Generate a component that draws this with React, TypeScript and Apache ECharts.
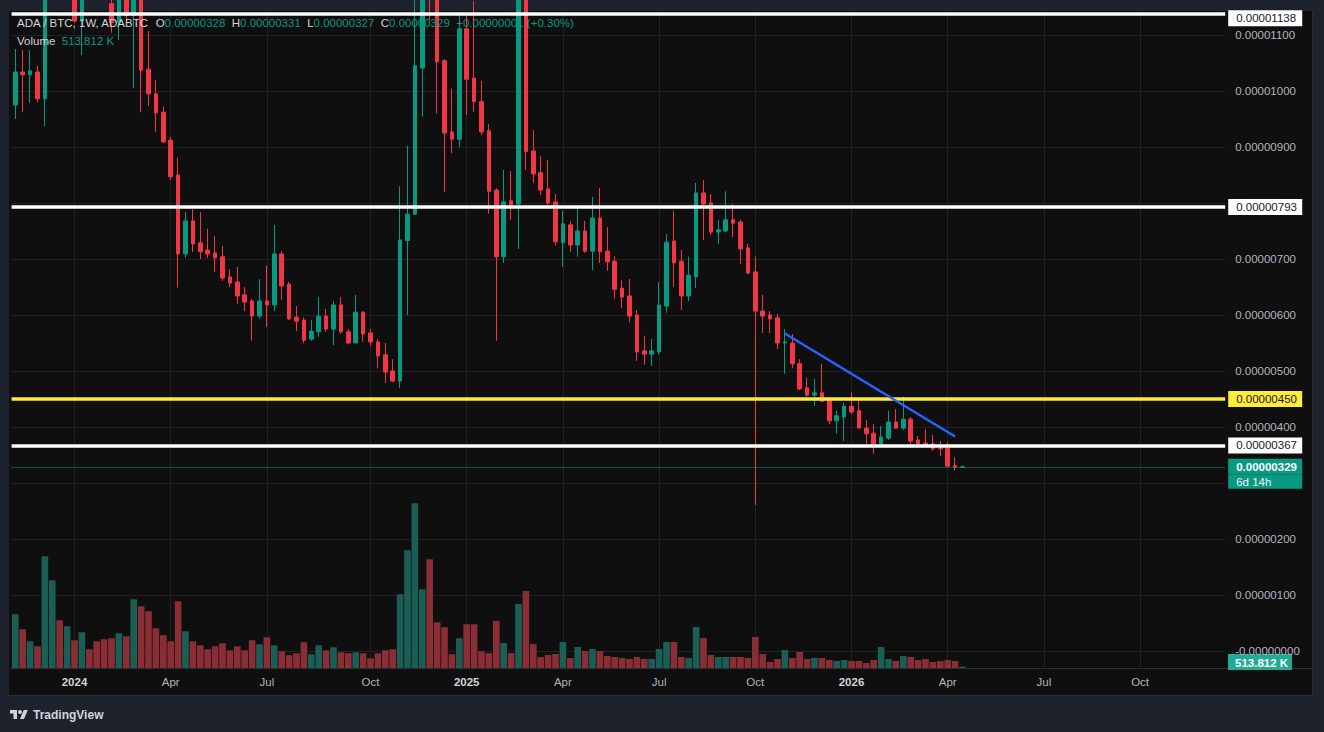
import React, { useEffect, useRef } from 'react';
import * as echarts from 'echarts';

// ---------- data (prices in units of 0.00000001 BTC) ----------
const START_UTC = Date.UTC(2023, 10, 6);
const WEEK_MS = 7 * 86400000;
const CATEGORY_COUNT = 164;
const categories: string[] = Array.from({ length: CATEGORY_COUNT }, (_, i) =>
  new Date(START_UTC + i * WEEK_MS).toISOString().slice(0, 10)
);

const opens = [
  975, 1034, 1029, 1034, 986, 1250, 1300, 1250, 1400, 1125,
  1200, 1180, 1160, 1156, 1122, 1170, 1135, 1180, 1039, 995,
  962, 912, 850, 709, 768, 729, 716, 711, 704, 668,
  659, 636, 625, 598, 625, 618, 709, 655, 596, 591,
  557, 570, 598, 575, 618, 570, 550, 605, 568, 552,
  529, 500, 482, 733, 780, 1041, 1300, 1200, 1054, 927,
  914, 1111, 1023, 981, 929, 823, 704, 804, 798, 1180,
  893, 854, 825, 802, 729, 761, 725, 750, 714, 773,
  714, 696, 648, 634, 600, 536, 530, 534, 616, 732,
  696, 634, 668, 818, 800, 748, 750, 770, 766, 720,
  677, 607, 600, 595, 550, 550, 513, 470, 457, 461,
  448, 411, 418, 437, 429, 398, 389, 370, 380, 409,
  398, 414, 377, 371, 370, 362, 362, 331, 328,
];
const highs = [
  1075, 1073, 1073, 1045, 1300, 1350, 1380, 1560, 1450, 1260,
  1280, 1230, 1210, 1240, 1200, 1200, 1220, 1200, 1107, 1020,
  972, 918, 881, 784, 789, 784, 754, 741, 723, 682,
  686, 650, 629, 664, 688, 761, 714, 659, 616, 596,
  591, 632, 611, 625, 632, 575, 636, 607, 575, 557,
  550, 521, 830, 902, 1200, 1380, 1400, 1260, 1057, 1004,
  1138, 1138, 1160, 1018, 941, 826, 859, 857, 1240, 1230,
  930, 884, 877, 816, 786, 768, 796, 768, 811, 827,
  757, 705, 662, 664, 609, 563, 557, 659, 745, 786,
  716, 704, 836, 841, 816, 770, 821, 798, 770, 727,
  704, 636, 607, 602, 575, 566, 521, 488, 486, 513,
  452, 429, 443, 462, 448, 412, 405, 402, 429, 432,
  454, 418, 384, 396, 386, 375, 373, 346, 331,
];
const lows = [
  950, 962, 979, 980, 937, 1160, 1200, 1220, 1122, 1064,
  1150, 1145, 1142, 1104, 1091, 1125, 1005, 962, 973, 927,
  908, 841, 649, 702, 712, 700, 702, 677, 661, 650,
  620, 607, 554, 593, 579, 607, 627, 591, 571, 550,
  554, 561, 570, 546, 566, 548, 550, 552, 545, 505,
  479, 480, 470, 600, 779, 954, 1127, 960, 820, 889,
  900, 957, 963, 921, 781, 554, 693, 770, 718, 859,
  836, 814, 796, 724, 686, 713, 704, 711, 680, 693,
  679, 629, 612, 587, 518, 511, 509, 529, 604, 650,
  609, 625, 648, 734, 743, 727, 748, 739, 691, 673,
  261, 568, 568, 539, 495, 505, 466, 454, 438, 445,
  405, 388, 375, 423, 398, 370, 352, 364, 377, 397,
  395, 370, 364, 366, 357, 348, 330, 322, 327,
];
const closes = [
  1034, 1029, 1036, 986, 1250, 1300, 1250, 1400, 1125, 1200,
  1180, 1160, 1155, 1122, 1170, 1135, 1180, 1037, 995, 961,
  909, 847, 709, 768, 727, 713, 709, 702, 666, 657,
  634, 623, 598, 625, 618, 709, 652, 593, 589, 555,
  571, 598, 575, 618, 570, 550, 605, 566, 552, 527,
  498, 482, 734, 780, 1045, 1250, 1200, 1052, 925, 914,
  1111, 1021, 981, 927, 821, 704, 802, 797, 1180, 892,
  852, 823, 800, 731, 763, 725, 750, 714, 773, 713,
  695, 646, 632, 598, 534, 530, 536, 618, 730, 693,
  634, 671, 818, 798, 748, 752, 770, 764, 718, 675,
  607, 598, 593, 550, 552, 513, 468, 457, 461, 446,
  411, 420, 437, 427, 398, 388, 368, 382, 409, 398,
  414, 375, 370, 366, 361, 361, 330, 328, 329,
];
// weekly volume, millions
const volumesM = [
  21.5, 15.5, 10.7, 8.7, 44.7, 35.1, 19.1, 16.7, 11.1, 14.3,
  7.5, 10.7, 11.5, 11.9, 13.9, 12.7, 27.5, 24.7, 22.7, 15.9,
  13.1, 10.7, 26.7, 14.7, 10.7, 9.1, 7.5, 8.7, 9.9, 7.1,
  8.7, 7.1, 11.1, 9.5, 12.3, 9.1, 6.7, 5.1, 5.9, 10.3,
  5.5, 9.1, 7.1, 8.3, 6.3, 5.9, 6.3, 5.9, 3.9, 5.9,
  7.1, 7.5, 29.5, 47.1, 65.9, 31.5, 43.5, 18.3, 16.3, 5.5,
  11.9, 17.5, 17.5, 6.7, 5.9, 18.8, 10.0, 6.0, 25.6, 30.8,
  9.6, 4.4, 5.2, 5.6, 10.4, 4.0, 8.4, 6.8, 7.6, 6.8,
  4.8, 4.4, 4.0, 3.6, 4.4, 3.6, 3.6, 7.6, 10.4, 10.4,
  4.4, 4.0, 16.4, 12.0, 5.2, 4.4, 4.4, 4.4, 4.4, 4.0,
  12.4, 5.6, 2.4, 3.6, 7.2, 4.0, 6.4, 3.6, 4.0, 4.0,
  3.2, 2.8, 3.2, 2.8, 2.8, 2.0, 3.2, 8.4, 3.6, 2.8,
  4.8, 4.4, 3.2, 3.6, 2.4, 2.8, 3.2, 2.8, 0.514,
];

const tickDates = [
  '2024-01-01', '2024-04-01', '2024-07-01', '2024-10-07',
  '2025-01-06', '2025-04-07', '2025-07-07', '2025-10-06',
  '2026-01-05', '2026-04-06', '2026-07-06', '2026-10-05',
];
const tickNames = ['2024', 'Apr', 'Jul', 'Oct', '2025', 'Apr', 'Jul', 'Oct', '2026', 'Apr', 'Jul', 'Oct'];

const priceTickValues = [0, 100, 200, 300, 400, 500, 600, 700, 800, 900, 1000, 1100];
const hiddenPriceTicks = [300, 800];

const whiteLevels = [1138, 793, 367];
const yellowLevel = 450;
const lastClose = 329;
const timerText = '6d 14h';
const volumeText = '513.812 K';
const trendStart: [string, number] = ['2025-11-03', 567];
const trendEnd: [string, number] = ['2026-04-13', 383];

// ---------- styling ----------
const FONT = "'Liberation Sans', Arial, sans-serif";
const UP = '#089981';
const DOWN = '#f23645';
const VOL_UP = '#1b5e55';
const VOL_DOWN = '#8a2e36';
const GRID = '#222222';
const SCALE_TEXT = '#b2b5be';
const PX_PER_UNIT = 0.56; // 56px per 0.000001
const fmt = (v: number) => (v / 1e8).toFixed(8);

const LOGO_D = 'M14 22H7V11H0V4h14v18zM28 22h-8l7.5-18h8L28 22zM24 8a4 4 0 1 1-8 0a4 4 0 1 1 8 0z';
let logoRegistered = false;
function registerLogo() {
  if (logoRegistered) return;
  echarts.graphic.registerShape('tvlogo', echarts.graphic.extendPath(LOGO_D, {}) as any);
  logoRegistered = true;
}

function tag(text: string, bg: string, fg: string, extra: any = {}) {
  return {
    show: true,
    position: 'end',
    distance: 3,
    formatter: text,
    backgroundColor: bg,
    color: fg,
    fontSize: 11.5,
    fontFamily: FONT,
    lineHeight: 12,
    padding: [2, 8, 2, 8],
    width: 58,
    ...extra,
  };
}

const hiddenLine = { color: 'rgba(0,0,0,0)', width: 1, type: 'solid' as const };

export default function App() {
  const ref = useRef<HTMLDivElement>(null);

  useEffect(() => {
    if (!ref.current) return;
    registerLogo();
    const chart = echarts.init(ref.current, null, { renderer: 'svg' });

    const tickIdx = new Set(tickDates.map((d) => categories.indexOf(d)));
    const candleData = opens.map((o, i) => [o, closes[i], lows[i], highs[i]]);
    const volData = volumesM.map((v, i) => ({
      value: v,
      itemStyle: { color: closes[i] >= opens[i] ? VOL_UP : VOL_DOWN },
    }));

    const lineW = { width: 3.5, type: 'solid' as const };
    const markData: any[] = [
      { yAxis: whiteLevels[0], lineStyle: { color: '#ffffff', ...lineW }, label: { show: false } },
      {
        yAxis: whiteLevels[0] - 4.5 / PX_PER_UNIT,
        lineStyle: hiddenLine,
        label: tag(fmt(whiteLevels[0]), '#ffffff', '#131722'),
      },
      { yAxis: whiteLevels[1], lineStyle: { color: '#ffffff', ...lineW }, label: tag(fmt(whiteLevels[1]), '#ffffff', '#131722') },
      { yAxis: yellowLevel, lineStyle: { color: '#ffeb3b', ...lineW }, label: tag(fmt(yellowLevel), '#ffeb3b', '#131722') },
      { yAxis: whiteLevels[2], lineStyle: { color: '#ffffff', ...lineW }, label: tag(fmt(whiteLevels[2]), '#ffffff', '#131722') },
      {
        yAxis: lastClose,
        lineStyle: { color: UP, type: 'dotted', width: 1 },
        label: tag(fmt(lastClose), UP, '#ffffff', { fontWeight: 'bold', padding: [3, 8, 1, 8] }),
      },
      {
        yAxis: lastClose - 15 / PX_PER_UNIT,
        lineStyle: hiddenLine,
        label: tag(timerText, UP, '#eaf6f3', { padding: [0, 8, 2, 8] }),
      },
      [
        { coord: trendStart, lineStyle: { color: '#2962ff', width: 2.5, type: 'solid' }, label: { show: false } },
        { coord: trendEnd },
      ],
    ];

    const richHeader = {
      n: { color: '#d1d4dc', fontSize: 11.5, fontFamily: FONT },
      v: { color: UP, fontSize: 11.5, fontFamily: FONT },
    };

    const option: any = {
      animation: false,
      backgroundColor: 'transparent',
      textStyle: { fontFamily: FONT },
      title: [
        {
          left: 17,
          top: 17,
          padding: 0,
          text:
            '{n|ADA / BTC, 1W, ADABTC}  {n|O}{v|0.00000328}  {n|H}{v|0.00000331}  {n|L}{v|0.00000327}  {n|C}{v|0.00000329}  {v|+0.00000001 (+0.30%)}',
          textStyle: { fontSize: 11.5, fontWeight: 'normal', color: '#d1d4dc', fontFamily: FONT, rich: richHeader },
        },
        {
          left: 17,
          top: 35,
          padding: 0,
          text: '{n|Volume}  {v|' + volumeText + '}',
          textStyle: { fontSize: 11.5, fontWeight: 'normal', color: '#d1d4dc', fontFamily: FONT, rich: richHeader },
        },
      ],
      grid: [
        { left: 11.6, right: 98.8, top: 12, bottom: 64 },
        { left: 11.6, right: 98.8, top: 468, bottom: 64 },
        { left: 11.6, right: 98.8, top: 35, bottom: 25 },
      ],
      xAxis: [
        {
          type: 'category',
          gridIndex: 0,
          data: categories,
          boundaryGap: true,
          axisLine: { show: false },
          axisTick: { show: false },
          axisLabel: { show: false },
          splitLine: {
            show: true,
            alignWithLabel: true,
            interval: (i: number) => tickIdx.has(i),
            lineStyle: { color: GRID, width: 1 },
          },
        },
        {
          type: 'category',
          gridIndex: 1,
          data: categories,
          boundaryGap: true,
          axisLine: { show: false },
          axisTick: { show: false },
          splitLine: { show: false },
          axisLabel: {
            show: true,
            margin: 8,
            interval: (i: number) => tickIdx.has(i),
            formatter: (value: string) => {
              const k = tickDates.indexOf(value);
              if (k < 0) return '';
              const t = tickNames[k];
              return /^\d{4}$/.test(t) ? '{y|' + t + '}' : '{m|' + t + '}';
            },
            rich: {
              y: { fontWeight: 'bold', color: '#d1d4dc', fontSize: 11.5, fontFamily: FONT },
              m: { color: SCALE_TEXT, fontSize: 11.5, fontFamily: FONT },
            },
          },
        },
        { type: 'value', gridIndex: 2, show: false, min: 0, max: 1 },
      ],
      yAxis: [
        { type: 'value', gridIndex: 0, min: (651 - 668) / PX_PER_UNIT, max: (651 - 12) / PX_PER_UNIT, show: false },
        { type: 'value', gridIndex: 1, min: 0, max: 80, show: false },
        {
          type: 'value',
          gridIndex: 2,
          position: 'right',
          min: -100,
          max: 1100,
          interval: 100,
          axisLine: { show: false },
          axisTick: { show: false },
          axisLabel: {
            margin: 10,
            color: SCALE_TEXT,
            fontSize: 11.5,
            fontFamily: FONT,
            showMinLabel: false,
            formatter: (v: number) => {
              if (!priceTickValues.includes(v) || hiddenPriceTicks.includes(v)) return '';
              return v === 0 ? '-0.00000000' : fmt(v);
            },
          },
          splitLine: {
            show: true,
            showMinLine: false,
            lineStyle: { color: GRID, width: 1 },
          },
        },
      ],
      series: [
        {
          name: 'Volume',
          type: 'bar',
          xAxisIndex: 1,
          yAxisIndex: 1,
          data: volData,
          barCategoryGap: '10%',
          z: 1,
        },
        {
          name: 'ADABTC',
          type: 'candlestick',
          xAxisIndex: 0,
          yAxisIndex: 0,
          data: candleData,
          barWidth: 4,
          clip: true,
          z: 3,
          itemStyle: {
            color: UP,
            color0: DOWN,
            borderColor: UP,
            borderColor0: DOWN,
            borderWidth: 1,
          },
        },
        {
          name: 'levels',
          type: 'line',
          xAxisIndex: 0,
          yAxisIndex: 0,
          data: [],
          clip: false,
          z: 5,
          markLine: {
            silent: true,
            symbol: ['none', 'none'],
            animation: false,
            data: markData,
          },
        },
      ],
      graphic: [
        {
          type: 'group',
          z: 100,
          children: [
            { type: 'rect', shape: { x: 1228, y: 654, width: 64, height: 16 }, style: { fill: '#22ab94' } },
            {
              type: 'text',
              x: 1235,
              y: 662.5,
              style: {
                text: volumeText,
                fill: '#ffffff',
                font: 'bold 11.5px ' + FONT,
                verticalAlign: 'middle',
                textVerticalAlign: 'middle',
              },
            },
          ],
        },
        {
          type: 'tvlogo',
          x: 10,
          y: 708,
          scaleX: 0.5,
          scaleY: 0.5,
          z: 100,
          style: { fill: '#d1d4dc' },
        },
        {
          type: 'text',
          x: 33,
          y: 714.5,
          z: 100,
          style: {
            text: 'TradingView',
            fill: '#d1d4dc',
            font: 'bold 12px ' + FONT,
            verticalAlign: 'middle',
            textVerticalAlign: 'middle',
          },
        },
      ],
    };

    chart.setOption(option);
    return () => chart.dispose();
  }, []);

  return (
    <div style={{ position: 'fixed', left: 0, top: 0, width: 1324, height: 732, background: '#1e222d', overflow: 'hidden' }}>
      <div
        style={{
          position: 'absolute',
          left: 9,
          top: 11,
          width: 1303,
          height: 684,
          background: '#0f0f0f',
          border: '1px solid #2a2e39',
          borderTop: 'none',
          borderLeft: 'none',
        }}
      />
      <div style={{ position: 'absolute', left: 10, top: 668, width: 1303, height: 1, background: '#2a2e39' }} />
      <div ref={ref} style={{ position: 'absolute', left: 0, top: 0, width: 1324, height: 732 }} />
    </div>
  );
}
